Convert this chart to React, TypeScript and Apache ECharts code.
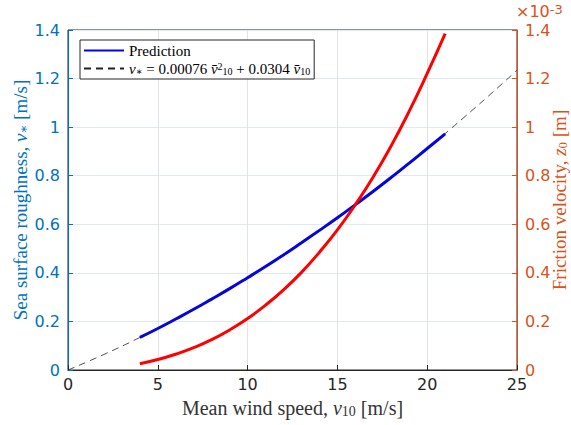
import React, { useEffect, useRef } from "react";
import * as echarts from "echarts";

// Prediction (blue) on left axis
const windSpeed = [4, 5, 6, 7, 8, 9, 10, 11, 12, 13, 14, 15, 16, 17, 18, 19, 20, 21];
const predictionVstar = [0.134, 0.171, 0.21, 0.25, 0.292, 0.335, 0.38, 0.426, 0.474, 0.524, 0.575, 0.627, 0.681, 0.736, 0.793, 0.852, 0.912, 0.972];
// Roughness length z0 (red) on right axis, in units of 1e-3 m
const z0Values = [0.026, 0.043, 0.065, 0.092, 0.125, 0.165, 0.212, 0.267, 0.33, 0.402, 0.485, 0.577, 0.681, 0.796, 0.924, 1.066, 1.221, 1.385];
// Fit curve (dashed)
const fitSpeed = [0, 2, 4, 6, 8, 10, 12, 14, 16, 18, 20, 22, 24, 25];
const fitVstar = [0, 0.064, 0.134, 0.21, 0.292, 0.38, 0.474, 0.575, 0.681, 0.793, 0.912, 1.037, 1.167, 1.235];

const BLUE_AX = "#0072BD";
const ORANGE_AX = "#D95319";
const DARK = "#262626";
const SERIF = "'Liberation Serif', 'DejaVu Serif', serif";
const SANS = "'DejaVu Sans', sans-serif";

export default function App() {
  const ref = useRef<HTMLDivElement>(null);
  useEffect(() => {
    document.body.style.margin = "0";
    document.body.style.overflow = "hidden";
    if (!ref.current) return;
    const chart = echarts.init(ref.current, undefined, { renderer: "svg" });
    const nameStyle = (color: string, size: number) => ({
      color,
      fontFamily: SERIF,
      fontSize: size,
      lineHeight: size,
      rich: {
        i: { fontFamily: SERIF, fontStyle: "italic", fontSize: size, color, lineHeight: size },
        s: { fontFamily: SERIF, fontSize: Math.round(size * 0.7), color, verticalAlign: "bottom", lineHeight: 13 },
      },
    });
    const legendRich = {
      i: { fontFamily: SERIF, fontStyle: "italic", fontSize: 15, color: "#000" },
      s: { fontFamily: SERIF, fontSize: 10, color: "#000", verticalAlign: "bottom", lineHeight: 10 },
      sup: { fontFamily: SERIF, fontSize: 10, color: "#000", verticalAlign: "top", lineHeight: 10 },
      t: { fontFamily: SERIF, fontSize: 15, color: "#000" },
    };
    chart.setOption({
      animation: false,
      grid: {
        left: 68,
        right: 54,
        top: 30,
        bottom: 55,
        containLabel: false,
        outerBoundsMode: "none",
        show: true,
        borderColor: DARK,
        borderWidth: 1,
        backgroundColor: "#fff",
      },
      legend: {
        orient: "vertical",
        left: 80,
        top: 40,
        padding: [3, 4, 3, 3],
        itemGap: 3,
        itemWidth: 40,
        itemHeight: 12,
        borderColor: DARK,
        borderWidth: 1,
        backgroundColor: "#fff",
        itemStyle: { opacity: 0 },
        data: ["Prediction", "Fit"],
        textStyle: { fontFamily: SERIF, fontSize: 15, color: "#000", rich: legendRich },
        formatter: (name: string) =>
          name === "Prediction"
            ? "{t|Prediction}"
            : "{i|v}{s|∗}{t| = 0.00076 }{i|v\u0304}{sup|2}{s|10}{t| + 0.0304 }{i|v\u0304}{s|10}",
      },
      xAxis: {
        type: "value",
        min: 0,
        max: 25,
        interval: 5,
        name: "Mean wind speed, {i|v}{s|10} [m/s]",
        nameLocation: "middle",
        nameGap: 28,
        nameMoveOverlap: false,
        nameTextStyle: nameStyle("#333", 20),
        axisLine: { show: true, lineStyle: { color: DARK } },
        axisTick: { show: true, inside: true, length: 5, lineStyle: { color: DARK } },
        axisLabel: { color: DARK, fontFamily: SANS, fontSize: 16, margin: 6 },
        splitLine: { show: true, lineStyle: { color: "#e3e3e3" } },
      },
      yAxis: [
        {
          type: "value",
          min: 0,
          max: 1.4,
          interval: 0.2,
          name: "Sea surface roughness, {i|v}{s|∗} [m/s]",
          nameLocation: "middle",
          nameRotate: 90,
          nameGap: 38,
          nameMoveOverlap: false,
          nameTextStyle: nameStyle(BLUE_AX, 19),
          axisLine: { show: true, lineStyle: { color: BLUE_AX } },
          axisTick: { show: true, inside: true, length: 5, lineStyle: { color: BLUE_AX } },
          axisLabel: { color: BLUE_AX, fontFamily: SANS, fontSize: 16, margin: 8 },
          splitLine: { show: true, lineStyle: { color: "#dfe9f3" } },
        },
        {
          type: "value",
          min: 0,
          max: 1.4,
          interval: 0.2,
          position: "right",
          name: "Friction velocity, {i|z}{s|0} [m]",
          nameLocation: "middle",
          nameRotate: 90,
          nameGap: 33,
          nameMoveOverlap: false,
          nameTextStyle: nameStyle(ORANGE_AX, 19),
          axisLine: { show: true, lineStyle: { color: ORANGE_AX } },
          axisTick: { show: true, inside: true, length: 5, lineStyle: { color: ORANGE_AX } },
          axisLabel: { color: ORANGE_AX, fontFamily: SANS, fontSize: 16, margin: 8 },
          splitLine: { show: false },
        },
      ],
      graphic: [
        {
          type: "text",
          left: 516,
          top: 3,
          style: {
            text: "×10{sup|-3}",
            fill: ORANGE_AX,
            font: `16px ${SANS}`,
            rich: { sup: { fontFamily: SANS, fontSize: 13, fill: ORANGE_AX, verticalAlign: "top", lineHeight: 12 } },
          },
        },
      ],
      series: [
        {
          name: "Prediction",
          type: "line",
          yAxisIndex: 0,
          data: windSpeed.map((v, i) => [v, predictionVstar[i]]),
          smooth: true,
          symbol: "none",
          lineStyle: { color: "#0000FF", width: 3 },
          itemStyle: { color: "#0000FF", opacity: 0 },
          z: 2,
        },
        {
          name: "z0",
          type: "line",
          yAxisIndex: 1,
          data: windSpeed.map((v, i) => [v, z0Values[i]]),
          smooth: true,
          symbol: "none",
          lineStyle: { color: "#FF0000", width: 3 },
          itemStyle: { color: "#FF0000" },
          z: 3,
        },
        {
          name: "Fit",
          type: "line",
          yAxisIndex: 0,
          data: fitSpeed.map((v, i) => [v, fitVstar[i]]),
          smooth: true,
          symbol: "none",
          lineStyle: { color: "#222", width: 0.8, type: [7, 5] },
          itemStyle: { color: "#222", opacity: 0 },
          z: 4,
        },
      ],
    });
    return () => chart.dispose();
  }, []);
  return <div ref={ref} style={{ width: 571, height: 425 }} />;
}
